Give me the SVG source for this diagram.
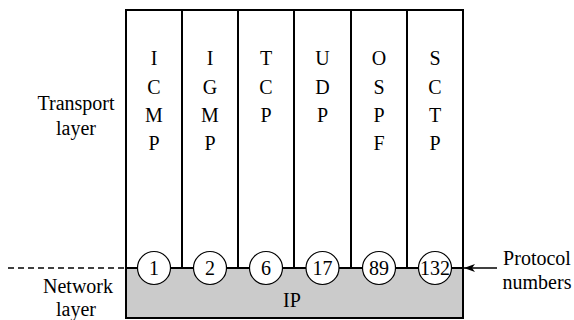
<svg xmlns="http://www.w3.org/2000/svg" width="574" height="320" viewBox="0 0 574 320">
  <style>
    text { font-family: 'Liberation Serif', 'Times New Roman', Times, serif; font-size: 20px; fill: #000; text-anchor: middle; }
    .ln { stroke: #000; stroke-width: 2; fill: none; }
    .port { fill: #fff; stroke: #000; stroke-width: 1.2; }
  </style>
  <defs>
    <marker id="arrow" markerWidth="12" markerHeight="8" refX="11" refY="4" orient="auto" markerUnits="userSpaceOnUse">
      <path d="M0,0 L11,4 L0,8 L3,4 Z" fill="#000"/>
    </marker>
  </defs>

  <!-- layer labels -->
  <g id="labels">
    <text x="76" y="110">Transport</text>
    <text x="76" y="135">layer</text>
    <text x="78" y="293">Network</text>
    <text x="76" y="316">layer</text>
    <text x="537" y="265">Protocol</text>
    <text x="537" y="289">numbers</text>
  </g>

  <!-- IP base -->
  <g id="ip">
    <rect x="126" y="268" width="337" height="50" fill="#cbcbcb" stroke="none"/>
    <text x="292" y="307">IP</text>
  </g>

  <!-- transport protocol columns, names spelled top to bottom -->
  <g id="icmp">
    <text x="154" y="65">I</text>
    <text x="154" y="94">C</text>
    <text x="154" y="122">M</text>
    <text x="154" y="150">P</text>
  </g>
  <g id="igmp">
    <text x="210" y="65">I</text>
    <text x="210" y="94">G</text>
    <text x="210" y="122">M</text>
    <text x="210" y="150">P</text>
  </g>
  <g id="tcp">
    <text x="266" y="65">T</text>
    <text x="266" y="94">C</text>
    <text x="266" y="122">P</text>
  </g>
  <g id="udp">
    <text x="322.5" y="65">U</text>
    <text x="322.5" y="94">D</text>
    <text x="322.5" y="122">P</text>
  </g>
  <g id="ospf">
    <text x="379" y="65">O</text>
    <text x="379" y="94">S</text>
    <text x="379" y="122">P</text>
    <text x="379" y="150">F</text>
  </g>
  <g id="sctp">
    <text x="435" y="65">S</text>
    <text x="435" y="94">C</text>
    <text x="435" y="122">T</text>
    <text x="435" y="150">P</text>
  </g>

  <!-- frame, dividers and layer boundary -->
  <g id="connectors">
    <rect class="ln" x="126" y="10" width="337" height="308"/>
    <line class="ln" x1="182" y1="10" x2="182" y2="268"/>
    <line class="ln" x1="238" y1="10" x2="238" y2="268"/>
    <line class="ln" x1="294" y1="10" x2="294" y2="268"/>
    <line class="ln" x1="351" y1="10" x2="351" y2="268"/>
    <line class="ln" x1="407" y1="10" x2="407" y2="268"/>
    <line class="ln" x1="126" y1="268" x2="463" y2="268"/>
    <line x1="8" y1="268" x2="126" y2="268" stroke="#000" stroke-width="1.5" stroke-dasharray="6,4"/>
    <line x1="497" y1="268" x2="464" y2="268" stroke="#000" stroke-width="1.5" marker-end="url(#arrow)"/>
  </g>

  <!-- protocol number ports on the layer boundary -->
  <g id="port-1"><circle class="port" cx="154" cy="268" r="16.5"/><text x="154" y="275">1</text></g>
  <g id="port-2"><circle class="port" cx="210" cy="268" r="16.5"/><text x="210" y="275">2</text></g>
  <g id="port-6"><circle class="port" cx="266" cy="268" r="16.5"/><text x="266" y="275">6</text></g>
  <g id="port-17"><circle class="port" cx="322.5" cy="268" r="16.5"/><text x="322.5" y="275">17</text></g>
  <g id="port-89"><circle class="port" cx="379" cy="268" r="16.5"/><text x="379" y="275">89</text></g>
  <g id="port-132"><circle class="port" cx="435" cy="268" r="16.5"/><text x="435" y="275" textLength="30">132</text></g>
</svg>
